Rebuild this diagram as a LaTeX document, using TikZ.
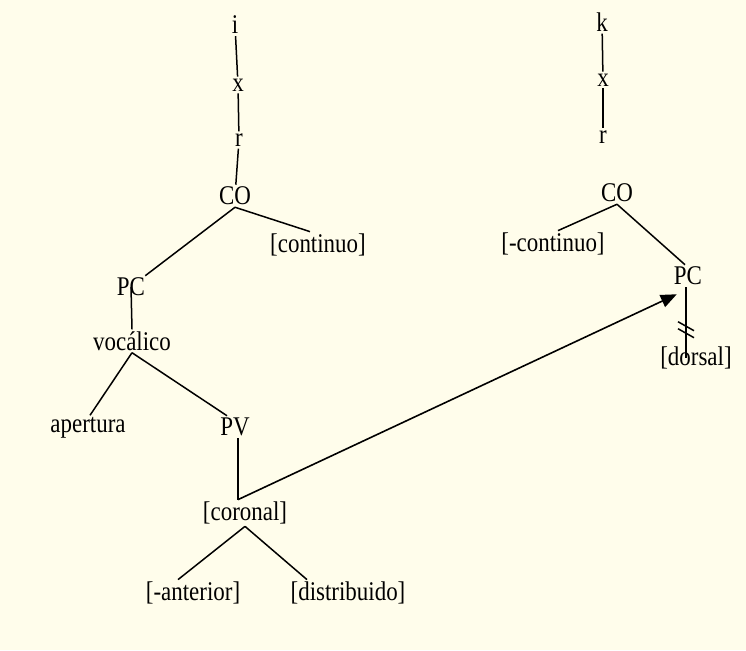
\documentclass[tikz,border=0pt]{standalone}
\usepackage{fontspec}
\setmainfont{Liberation Serif}[FakeStretch=0.85]
\usetikzlibrary{arrows.meta}
\definecolor{paper}{RGB}{255,253,235}

\begin{document}
\begin{tikzpicture}[x=1pt,y=-1pt,
  every node/.style={inner sep=2pt, font=\fontsize{27}{30}\selectfont},
  tie/.style={line width=1.5pt},
  link/.style={line width=1.6pt, -{Triangle[length=16pt,width=13pt]}}]
\fill[paper] (0,0) rectangle (746,650);
\useasboundingbox (0,0) rectangle (746,650);

% left tree
\node (i) at (235,25) {i};
\node (xl) at (238,85) {x};
\node (rl) at (239,140) {r};
\node (col) at (235,196) {CO};
\node (cont) at (318,245) {[continuo]};
\node (pcl) at (131,287) {PC};
\node (voc) at (132,341) {vocálico};
\node (aper) at (88,428) {apertura};
\node (pv) at (235,427) {PV};
\node (cor) at (245,513) {[coronal]};
\node (ant) at (193,593) {[-anterior]};
\node (dist) at (348,593) {[distribuido]};

% right tree
\node (k) at (602,22) {k};
\node (xr) at (603,80) {x};
\node (rr) at (603,137) {r};
\node (cor2) at (617,193) {CO};
\node (ncont) at (553,244) {[-continuo]};
\node (pcr) at (688,276) {PC};
\node (dors) at (696,358) {[dorsal]};

\draw[tie] (i) -- (xl);
\draw[tie] (xl) -- (rl);
\draw[tie] (rl) -- (col);
\draw[tie] (col.south) -- ([xshift=-2pt]pcl.north east);
\draw[tie] (col.south) -- ([xshift=-8pt]cont.north);
\draw[tie] (pcl.center) -- (voc.north);
\draw[tie] (voc.south) -- ([xshift=2pt]aper.north);
\draw[tie] (voc.south) -- ([xshift=-8pt]pv.north);
\draw[tie] ([xshift=3pt]pv.south) -- ([xshift=-7pt]cor.north);
\draw[tie] (cor.south) -- ([xshift=-15pt]ant.north);
\draw[tie] (cor.south) -- ([xshift=-41pt]dist.north);

\draw[tie] (k) -- (xr);
\draw[tie] (xr) -- (rr);
\draw[tie] (cor2.south) -- ([xshift=5pt]ncont.north);
\draw[tie] (cor2.south) -- ([xshift=-3pt]pcr.north);
\draw[tie] ([xshift=-2pt]pcr.south) -- ([xshift=-10pt]dors.center) coordinate[pos=0.6] (cut);
\draw[tie] ([shift={(-8pt,8pt)}]cut) -- ++(16pt,-9pt);
\draw[tie] ([shift={(-8pt,1pt)}]cut) -- ++(16pt,-9pt);

% spreading
\draw[link] ([xshift=-7pt]cor.north) -- ([shift={(5pt,-7pt)}]pcr.south west);
\end{tikzpicture}
\end{document}
